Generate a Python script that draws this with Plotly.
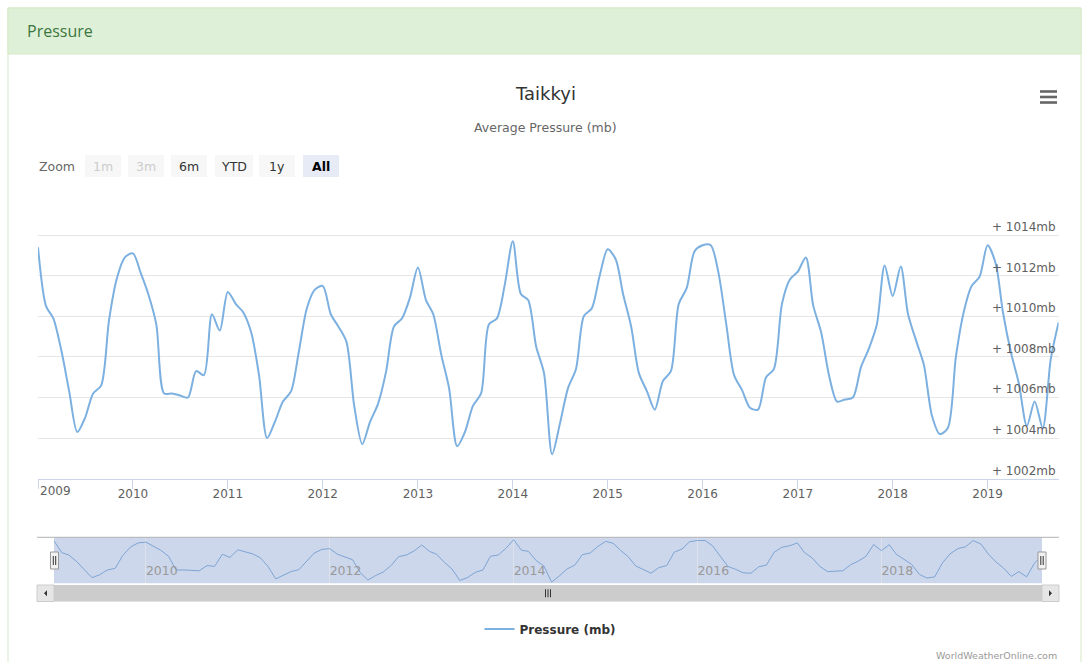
import plotly.graph_objects as go
import pandas as pd

# ---------------- data ----------------
DATES = pd.date_range("2009-01-01", "2019-10-01", freq="MS")

P2009 = [1013.4, 1010.5, 1009.9, 1008.3, 1006.3, 1004.3, 1005.0, 1006.2, 1006.6, 1009.8, 1011.9, 1012.9]
P2010 = [1013.1, 1012.1, 1011.1, 1009.6, 1006.2, 1006.2, 1006.1, 1006.0, 1007.3, 1007.1, 1010.1, 1009.3]
P2011 = [1011.2, 1010.6, 1010.2, 1009.2, 1007.1, 1004.0, 1004.8, 1005.8, 1006.3, 1008.25, 1010.4, 1011.3]
P2012 = [1011.5, 1010.1, 1009.5, 1008.75, 1005.6, 1003.7, 1004.8, 1005.7, 1007.3, 1009.5, 1009.9, 1010.9]
P2013 = [1012.4, 1010.8, 1010.1, 1008.1, 1006.45, 1003.6, 1004.3, 1005.6, 1006.2, 1009.6, 1009.9, 1011.55]
P2014 = [1013.7, 1011.1, 1010.8, 1008.5, 1007.2, 1003.2, 1004.7, 1006.45, 1007.4, 1010.0, 1010.4, 1012.0]
P2015 = [1013.3, 1012.8, 1011.1, 1009.5, 1007.2, 1006.3, 1005.4, 1006.8, 1007.3, 1010.6, 1011.4, 1013.2]
P2016 = [1013.5, 1013.5, 1012.2, 1009.6, 1007.1, 1006.35, 1005.5, 1005.4, 1007.0, 1007.4, 1010.6, 1011.8]
P2017 = [1012.2, 1012.9, 1010.55, 1009.2, 1007.1, 1005.8, 1005.9, 1006.0, 1007.5, 1008.4, 1009.6, 1012.5]
P2018 = [1011.0, 1012.45, 1010.1, 1008.8, 1007.6, 1005.1, 1004.2, 1004.5, 1008.0, 1010.2, 1011.5, 1011.95]
P2019 = [1013.5, 1012.6, 1010.2, 1008.2, 1006.7, 1004.6, 1005.8, 1004.5, 1007.9, 1009.7]

PRESSURE = P2009 + P2010 + P2011 + P2012 + P2013 + P2014 + P2015 + P2016 + P2017 + P2018 + P2019

Y_TICKS = [1002, 1004, 1006, 1008, 1010, 1012, 1014, 1016]
Y_TICK_TEXT = ["+ 1002mb", "+ 1004mb", "+ 1006mb", "+ 1008mb", "+ 1010mb", "+ 1012mb", "+ 1014mb", ""]

YEAR_TICKS = ["2009-01-01", "2010-01-01", "2011-01-01", "2012-01-01", "2013-01-01", "2014-01-01",
              "2015-01-01", "2016-01-01", "2017-01-01", "2018-01-01", "2019-01-01"]
YEAR_LABELS = ["2009", "2010", "2011", "2012", "2013", "2014", "2015", "2016", "2017", "2018", "2019"]

NAV_TICKS = ["2010-01-01", "2012-01-01", "2014-01-01", "2016-01-01", "2018-01-01"]
NAV_LABELS = ["2010", "2012", "2014", "2016", "2018"]

ZOOM_BUTTONS = ["1m", "3m", "6m", "YTD", "1y", "All"]

TITLE = "Taikkyi"
SUBTITLE = "Average Pressure (mb)"
SERIES_NAME = "Pressure (mb)"

# ---------------- helpers ----------------
W, H = 1089, 662
FONT = "DejaVu Sans"


def px(x):
    return x / W


def py(y):
    return 1 - y / H


X_RANGE = [str(DATES[0].date()), str(DATES[-1].date())]

fig = go.Figure()

fig.add_trace(go.Scatter(
    x=DATES, y=PRESSURE, mode="lines", name=SERIES_NAME,
    line=dict(color="#7cb0e0", width=2, shape="spline", smoothing=0.8),
    xaxis="x", yaxis="y", showlegend=True, hoverinfo="x+y",
))

fig.add_trace(go.Scatter(
    x=DATES, y=PRESSURE, mode="lines", name=SERIES_NAME,
    line=dict(color="#7ca4d4", width=1),
    xaxis="x2", yaxis="y2", showlegend=False, hoverinfo="skip",
))

shapes = []
annotations = []

# card and header
shapes.append(dict(type="rect", xref="paper", yref="paper", x0=px(8), x1=px(1081), y0=py(8), y1=py(700),
                   line=dict(color="#d6e9c6", width=1), fillcolor="rgba(0,0,0,0)", layer="below"))
shapes.append(dict(type="rect", xref="paper", yref="paper", x0=px(8), x1=px(1081), y0=py(8), y1=py(54),
                   line=dict(color="#d6e9c6", width=1), fillcolor="#dff0d8", layer="below"))
annotations.append(dict(text="Pressure", x=px(25), y=py(31), xref="paper", yref="paper",
                        xanchor="left", yanchor="middle", showarrow=False,
                        font=dict(family="Open Sans", size=16, color="#3c763d")))

# title / subtitle
annotations.append(dict(text=TITLE, x=px(545), y=py(93), xref="paper", yref="paper",
                        xanchor="center", yanchor="middle", showarrow=False,
                        font=dict(family=FONT, size=18, color="#333333")))
annotations.append(dict(text=SUBTITLE, x=px(545), y=py(127), xref="paper", yref="paper",
                        xanchor="center", yanchor="middle", showarrow=False,
                        font=dict(family=FONT, size=12.5, color="#666666")))

# hamburger menu
for yy in (91.5, 97, 102.5):
    shapes.append(dict(type="line", xref="paper", yref="paper", x0=px(1040), x1=px(1057), y0=py(yy), y1=py(yy),
                       line=dict(color="#666666", width=2.6)))

# range selector look-alike
annotations.append(dict(text="Zoom", x=px(37), y=py(166), xref="paper", yref="paper",
                        xanchor="left", yanchor="middle", showarrow=False,
                        font=dict(family=FONT, size=12.5, color="#666666")))
btn_x = [85, 128, 171, 215, 259, 303]
btn_w = [36, 36, 36, 38, 36, 36]
for i, lab in enumerate(ZOOM_BUTTONS):
    x0 = btn_x[i]
    x1 = x0 + btn_w[i]
    selected = lab == "All"
    disabled = lab in ("1m", "3m")
    shapes.append(dict(type="rect", xref="paper", yref="paper", x0=px(x0), x1=px(x1), y0=py(155), y1=py(177),
                       line=dict(width=0), fillcolor="#e6ebf5" if selected else "#f7f7f7", layer="below"))
    annotations.append(dict(text=("<b>%s</b>" % lab) if selected else lab, x=px((x0 + x1) / 2), y=py(166),
                            xref="paper", yref="paper", xanchor="center", yanchor="middle", showarrow=False,
                            font=dict(family=FONT, size=12.5,
                                      color="#cccccc" if disabled else ("#000000" if selected else "#333333"))))

# first x label is justified inside the plot (like the original)
annotations.append(dict(text=YEAR_LABELS[0], x=YEAR_TICKS[0], xref="x", y=py(491), yref="paper",
                        xanchor="left", yanchor="middle", showarrow=False,
                        font=dict(family=FONT, size=12, color="#606060")))

# navigator
NAV_TOP, NAV_BOT = 537.3, 583.3
shapes.append(dict(type="rect", xref="paper", yref="paper", x0=px(54), x1=px(1042), y0=py(NAV_BOT), y1=py(NAV_TOP),
                   line=dict(width=0), fillcolor="rgba(102,133,194,0.33)", layer="below"))
shapes.append(dict(type="line", xref="paper", yref="paper", x0=px(37), x1=px(1059), y0=py(NAV_TOP), y1=py(NAV_TOP),
                   line=dict(color="#b2b1b6", width=1)))

# scrollbar
SB_T, SB_B = 585, 601.5
shapes.append(dict(type="rect", xref="paper", yref="paper", x0=px(37), x1=px(1059), y0=py(SB_B), y1=py(SB_T),
                   line=dict(width=0), fillcolor="#f2f2f2"))
shapes.append(dict(type="rect", xref="paper", yref="paper", x0=px(54), x1=px(1042), y0=py(SB_B), y1=py(SB_T),
                   line=dict(width=0), fillcolor="#cccccc"))
for bx0, bx1 in ((37, 54), (1042, 1059)):
    shapes.append(dict(type="rect", xref="paper", yref="paper", x0=px(bx0), x1=px(bx1), y0=py(SB_B), y1=py(SB_T),
                       line=dict(color="#cccccc", width=1), fillcolor="#e6e6e6"))
cy = (SB_T + SB_B) / 2
shapes.append(dict(type="path", xref="paper", yref="paper",
                   path="M %f %f L %f %f L %f %f Z" % (px(44), py(cy), px(47), py(cy - 3), px(47), py(cy + 3)),
                   fillcolor="#333333", line=dict(width=0)))
shapes.append(dict(type="path", xref="paper", yref="paper",
                   path="M %f %f L %f %f L %f %f Z" % (px(1052), py(cy), px(1049), py(cy - 3), px(1049), py(cy + 3)),
                   fillcolor="#333333", line=dict(width=0)))
for gx in (545.5, 548, 550.5):
    shapes.append(dict(type="line", xref="paper", yref="paper", x0=px(gx), x1=px(gx), y0=py(cy - 4), y1=py(cy + 4),
                       line=dict(color="#333333", width=1)))

# navigator handles
for hc in (54.5, 1042):
    shapes.append(dict(type="rect", xref="paper", yref="paper", x0=px(hc - 4), x1=px(hc + 4), y0=py(569), y1=py(552),
                       line=dict(color="#999999", width=1), fillcolor="#f2f2f2"))
    for gx in (hc - 1.2, hc + 1.2):
        shapes.append(dict(type="line", xref="paper", yref="paper", x0=px(gx), x1=px(gx), y0=py(556), y1=py(565),
                           line=dict(color="#333333", width=1)))

# credits
annotations.append(dict(text="WorldWeatherOnline.com", x=px(1059), y=py(655), xref="paper", yref="paper",
                        xanchor="right", yanchor="middle", showarrow=False,
                        font=dict(family=FONT, size=9.5, color="#999999")))

fig.update_layout(
    width=W, height=H, autosize=False,
    margin=dict(l=0, r=0, t=0, b=0, pad=0, autoexpand=False),
    paper_bgcolor="white", plot_bgcolor="rgba(0,0,0,0)",
    font=dict(family=FONT, color="#333333"),
    hovermode=False,
    showlegend=True,
    legend=dict(orientation="h", x=px(550), xanchor="center", y=py(629), yanchor="middle",
                bgcolor="rgba(0,0,0,0)", font=dict(family=FONT, size=12, color="#333333", weight="bold"),
                itemwidth=30),
    xaxis=dict(domain=[px(38), px(1058.6)], range=X_RANGE, anchor="y",
               tickvals=YEAR_TICKS, ticktext=[""] + YEAR_LABELS[1:], ticks="outside", ticklen=9,
               ticklabelstandoff=-5,
               tickcolor="#ccd6eb", tickwidth=1, showline=True, linecolor="#ccd6eb", linewidth=1,
               showgrid=False, zeroline=False, fixedrange=True, automargin=False,
               tickfont=dict(family=FONT, size=12, color="#606060")),
    yaxis=dict(domain=[py(478.7), py(194.5)], range=[1002, 1016], anchor="x", side="right",
               tickvals=Y_TICKS, ticktext=Y_TICK_TEXT, ticklabelposition="inside top",
               showgrid=True, gridcolor="#e6e6e6", gridwidth=1, zeroline=False, showline=False,
               ticks="", fixedrange=True, automargin=False,
               tickfont=dict(family=FONT, size=12, color="#606060")),
    xaxis2=dict(domain=[px(54), px(1042)], range=X_RANGE, anchor="y2",
                tickvals=NAV_TICKS, ticktext=NAV_LABELS, ticklabelposition="inside right",
                showgrid=True, gridcolor="#dde2ea", gridwidth=1, ticks="", showline=False, zeroline=False,
                fixedrange=True, automargin=False, tickfont=dict(family=FONT, size=12.5, color="#999999")),
    yaxis2=dict(domain=[py(NAV_BOT), py(NAV_TOP)], range=[1002.9, 1014.3], anchor="x2",
                showgrid=False, showticklabels=False, zeroline=False, showline=False, ticks="",
                fixedrange=True, automargin=False),
    shapes=shapes,
    annotations=annotations,
)

fig.write_html(
    "out.html",
    config={"displayModeBar": False},
    post_script="document.body.style.margin='0';document.body.style.overflow='hidden';"
                "document.documentElement.style.overflow='hidden';",
)
